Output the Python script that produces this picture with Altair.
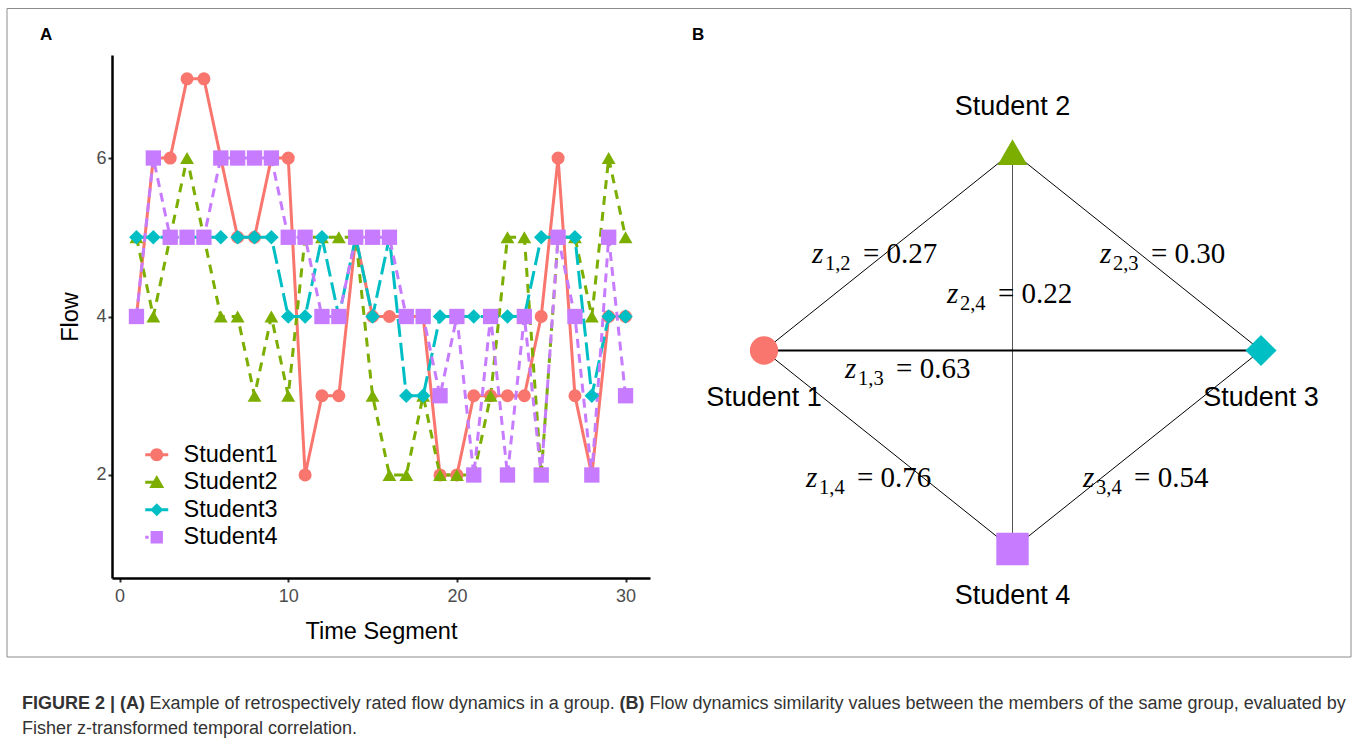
import altair as alt
import pandas as pd

# ---------------- Panel A data ----------------
time_segment = list(range(1, 31))
student1 = [4, 6, 6, 7, 7, 6, 5, 5, 6, 6, 2, 3, 3, 5, 4, 4, 4, 4, 2, 2, 3, 3, 3, 3, 4, 6, 3, 2, 4, 4]
student2 = [5, 4, 5, 6, 5, 4, 4, 3, 4, 3, 5, 5, 5, 5, 3, 2, 2, 3, 2, 2, 2, 3, 5, 5, 2, 5, 5, 4, 6, 5]
student3 = [5, 5, 5, 5, 5, 5, 5, 5, 5, 4, 4, 5, 4, 5, 4, 5, 3, 3, 4, 4, 4, 4, 4, 4, 5, 5, 5, 3, 4, 4]
student4 = [4, 6, 5, 5, 5, 6, 6, 6, 6, 5, 5, 4, 4, 5, 5, 5, 4, 4, 3, 4, 2, 4, 2, 4, 2, 5, 4, 2, 5, 3]
students = ["Student1", "Student2", "Student3", "Student4"]
x_ticks = [0, 10, 20, 30]
y_ticks = [2, 4, 6]

# ---------------- Panel B data ----------------
node_names = ["Student 1", "Student 2", "Student 3", "Student 4"]
node_x = [0, 1, 2, 1]
node_y = [1, 2, 1, 0]
edge_from = [1, 2, 2, 1, 1, 3]
edge_to = [2, 3, 4, 3, 4, 4]
edge_z = [0.27, 0.30, 0.22, 0.63, 0.76, 0.54]
# label anchors (left edge, baseline) in network units
label_x = [0.193, 1.352, 0.736, 0.326, 0.169, 1.284]
label_y = [1.441, 1.441, 1.239, 0.861, 0.312, 0.312]

caption_line1_a = "FIGURE 2 | (A)"
caption_line1_b = "Example of retrospectively rated flow dynamics in a group."
caption_line1_c = "(B)"
caption_line1_d = "Flow dynamics similarity values between the members of the same group, evaluated by"
caption_line2 = "Fisher z-transformed temporal correlation."

# ---------------- styles ----------------
colors = ["#F8766D", "#7CAE00", "#00BFC4", "#C77CFF"]
shapes = ["circle", "triangle-up", "diamond", "square"]
dashes = [[1, 0], [9, 7], [18, 6], [9, 6]]
psizes = [170, 235, 155, 175]
# legend keys: shape plus a line segment (solid / dashed pieces), unit coordinates
legend_keys = [
    "M-1,0A1,1 0 1,1 1,0A1,1 0 1,1 -1,0Z M-1.77,-0.23H-0.9V0.23H-1.77Z M0.9,-0.23H1.77V0.23H0.9Z",
    "M0,-1.1L1.15,0.9L-1.15,0.9Z M-1.77,-0.23H-0.45V0.23H-1.77Z",
    "M0,-1L1,0L0,1L-1,0Z M-1.77,-0.23H1.77V0.23H-1.77Z",
    "M-0.95,-0.95H0.95V0.95H-0.95Z M-1.77,-0.23H-1.25V0.23H-1.77Z",
]
SANS = "Liberation Sans"
SERIF = "Liberation Serif"

rows = []
for name, vals in zip(students, [student1, student2, student3, student4]):
    for t, v in zip(time_segment, vals):
        rows.append({"student": name, "time": t, "flow": v})
df = pd.DataFrame(rows)

xA = alt.X("time:Q", scale=alt.Scale(domain=[-0.45, 31.45], nice=False, zero=False),
           axis=alt.Axis(values=x_ticks, title="Time Segment", grid=False, domainColor="black",
                         domainWidth=2.5, tickColor="#333", tickWidth=2, tickSize=4,
                         labelColor="#4d4d4d", labelFontSize=18, labelFont=SANS, labelPadding=5,
                         titleFont=SANS, titleFontSize=23.5, titleFontWeight="normal",
                         titleColor="black", titlePadding=14))
yA = alt.Y("flow:Q", scale=alt.Scale(domain=[0.7, 7.3], nice=False, zero=False),
           axis=alt.Axis(values=y_ticks, title="Flow", grid=False, domainColor="black",
                         domainWidth=2.5, tickColor="#333", tickWidth=2, tickSize=4,
                         labelColor="#4d4d4d", labelFontSize=18, labelFont=SANS, labelPadding=2,
                         titleFont=SANS, titleFontSize=23.5, titleFontWeight="normal",
                         titleColor="black", titlePadding=13))
legend = alt.Legend(orient="none", legendX=33, legendY=388, title=None, labelFontSize=23.5,
                    labelFont=SANS, labelColor="black", symbolSize=169, rowPadding=2.5,
                    labelOffset=15, padding=0, symbolStrokeWidth=0, symbolOpacity=1)
cscale = alt.Scale(domain=students, range=colors)

lines = alt.Chart(df).mark_line(strokeWidth=3).encode(
    x=xA, y=yA, color=alt.Color("student:N", scale=cscale, legend=None),
    strokeDash=alt.StrokeDash("student:N", scale=alt.Scale(domain=students, range=dashes), legend=None),
)
points = alt.Chart(df).mark_point(filled=True, opacity=1).encode(
    x=xA, y=yA, color=alt.Color("student:N", scale=cscale, legend=None),
    shape=alt.Shape("student:N", scale=alt.Scale(domain=students, range=shapes), legend=None),
    size=alt.Size("student:N", scale=alt.Scale(domain=students, range=psizes), legend=None),
)
legend_layer = alt.Chart(df).transform_filter("false").mark_point(filled=True, opacity=1).encode(
    x=xA, y=yA, color=alt.Color("student:N", scale=cscale, legend=legend),
    shape=alt.Shape("student:N", scale=alt.Scale(domain=students, range=legend_keys), legend=legend),
)
left = alt.layer(lines, points, legend_layer).resolve_scale(
    color="independent", shape="independent").properties(width=538, height=523)

# ---------------- Panel B ----------------
PX = alt.Scale(domain=[650, 1358], nice=False, zero=False)
PY = alt.Scale(domain=[55, 578], nice=False, zero=False, reverse=True)
NX = alt.Scale(domain=[-0.4588, 2.3903], nice=False, zero=False)
NY = alt.Scale(domain=[-0.1461, 2.4887], nice=False, zero=False)

def px(field):
    return alt.X(field, scale=PX, axis=None)

def py(field):
    return alt.Y(field, scale=PY, axis=None)

canvas = alt.Chart(pd.DataFrame({"x": [0], "x2": [1358], "y": [0], "y2": [746]})).mark_rect(
    opacity=0).encode(x=px("x:Q"), x2="x2:Q", y=py("y:Q"), y2="y2:Q")
frame = alt.Chart(pd.DataFrame({"x": [7], "x2": [1351], "y": [8.5], "y2": [657]})).mark_rect(
    fillOpacity=0, stroke="#8c8c8c", strokeWidth=1).encode(x=px("x:Q"), x2="x2:Q", y=py("y:Q"), y2="y2:Q")

panel_labels = alt.Chart(pd.DataFrame({"x": [40, 692], "y": [35, 35], "t": ["A", "B"]})).mark_text(
    font=SANS, fontSize=17, fontWeight="bold", align="left", baseline="middle", color="black"
).encode(x=px("x:Q"), y=py("y:Q"), text="t:N")

cap_bold = alt.Chart(pd.DataFrame({"x": [22, 619.6], "y": [709, 709], "t": [caption_line1_a, caption_line1_c]})).mark_text(
    font=SANS, fontSize=18, fontWeight="bold", align="left", baseline="alphabetic", color="#333"
).encode(x=px("x:Q"), y=py("y:Q"), text="t:N")
cap_norm = alt.Chart(pd.DataFrame({"x": [149.5, 649.4, 22], "y": [709, 709, 734],
                                   "t": [caption_line1_b, caption_line1_d, caption_line2]})).mark_text(
    font=SANS, fontSize=18, align="left", baseline="alphabetic", color="#333"
).encode(x=px("x:Q"), y=py("y:Q"), text="t:N")

nodes = pd.DataFrame({"name": node_names, "x": node_x, "y": node_y})
pos = {i + 1: (node_x[i], node_y[i]) for i in range(4)}
edges = pd.DataFrame({
    "a": edge_from, "b": edge_to, "z": edge_z,
    "x1": [pos[a][0] for a in edge_from], "y1": [pos[a][1] for a in edge_from],
    "x2": [pos[b][0] for b in edge_to], "y2": [pos[b][1] for b in edge_to],
    "lx": label_x, "ly": label_y,
})

def nx(field):
    return alt.X(field, scale=NX, axis=None)

def ny(field):
    return alt.Y(field, scale=NY, axis=None)

edge_rules = alt.Chart(edges).mark_rule().encode(
    x=nx("x1:Q"), y=ny("y1:Q"), x2="x2:Q", y2="y2:Q",
    strokeWidth=alt.condition("datum.a == 1 && datum.b == 3", alt.value(2.2), alt.value(1)),
    color=alt.condition("datum.a == 2 && datum.b == 4", alt.value("#555555"), alt.value("black")),
)
node_marks = alt.Chart(nodes).mark_point(filled=True, opacity=1).encode(
    x=nx("x:Q"), y=ny("y:Q"),
    color=alt.Color("name:N", scale=alt.Scale(domain=node_names, range=colors), legend=None),
    shape=alt.Shape("name:N", scale=alt.Scale(domain=node_names, range=shapes), legend=None),
    size=alt.Size("name:N", scale=alt.Scale(domain=node_names, range=[800, 1050, 760, 850]), legend=None),
)
node_top = alt.Chart(nodes).transform_filter("datum.name == 'Student 2'").mark_text(
    font=SANS, fontSize=27, baseline="middle", dy=-45, color="black"
).encode(x=nx("x:Q"), y=ny("y:Q"), text="name:N")
node_bottom = alt.Chart(nodes).transform_filter("datum.name != 'Student 2'").mark_text(
    font=SANS, fontSize=27, baseline="middle", dy=47, color="black"
).encode(x=nx("x:Q"), y=ny("y:Q"), text="name:N")

lab_base = alt.Chart(edges).transform_calculate(
    sub="datum.a + ',' + datum.b", eq="'= ' + format(datum.z, '.2f')")
lab_z = lab_base.mark_text(font=SERIF, fontSize=29, fontStyle="italic", align="left",
                           baseline="alphabetic", color="black").encode(
    x=nx("lx:Q"), y=ny("ly:Q"), text=alt.value("z"))
lab_sub = lab_base.mark_text(font=SERIF, fontSize=20.5, align="left", baseline="alphabetic",
                             dx=13, dy=7, color="black").encode(
    x=nx("lx:Q"), y=ny("ly:Q"), text="sub:N")
lab_eq = lab_base.mark_text(font=SERIF, fontSize=29, align="left", baseline="alphabetic",
                            dx=51, color="black").encode(
    x=nx("lx:Q"), y=ny("ly:Q"), text="eq:N")

right = alt.layer(canvas, frame, panel_labels, cap_bold, cap_norm,
                  edge_rules, node_marks, node_top, node_bottom, lab_z, lab_sub, lab_eq
                  ).resolve_scale(x="independent", y="independent").properties(width=708, height=523)

chart = alt.hconcat(left, right, spacing=0, bounds="flush", padding=0).resolve_scale(
    color="independent", shape="independent", size="independent", strokeDash="independent"
).resolve_legend(
    color="independent", shape="independent", size="independent", strokeDash="independent"
).configure_view(stroke=None)
chart = chart.properties(background="white")
chart.save("out.html", embed_options={"renderer": "svg", "actions": False})
